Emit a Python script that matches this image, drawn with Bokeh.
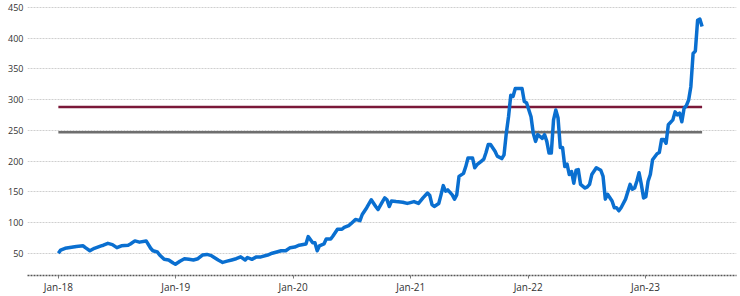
import pandas as pd
from bokeh.plotting import figure
from bokeh.models import Range1d, FixedTicker, DatetimeTickFormatter, ColumnDataSource
from bokeh.embed import file_html
from bokeh.resources import INLINE

# weekly series: week index since 2018-01-01 and value
weeks = [0, 1, 3, 8, 11, 12, 14, 16, 19, 20, 22, 24, 26, 28, 31, 32, 34, 36, 39, 41,
         42, 44, 45, 47, 49, 51, 52, 54, 56, 58, 60, 62, 64, 66, 68, 71, 73, 75, 77, 79,
         81, 83, 84, 86, 88, 90, 93, 95, 97, 99, 101, 103, 105, 107, 110, 111, 113, 114, 115, 116,
         118, 119, 121, 122, 124, 126, 127, 129, 130, 132, 134, 135, 137, 139, 141, 142, 144, 145, 146, 147,
         148, 150, 153, 155, 156, 158, 160, 162, 164, 165, 166, 167, 169, 170, 171, 172, 173, 175, 176, 177,
         178, 180, 181, 182, 184, 185, 186, 188, 189, 190, 191, 192, 194, 195, 197, 198, 199, 200, 201, 202,
         203, 204, 206, 207, 208, 210, 211, 212, 213, 215, 216, 217, 218, 219, 220, 221, 222, 223, 224, 225,
         226, 227, 228, 229, 230, 231, 232, 234, 235, 236, 237, 239, 241, 242, 243, 244, 246, 247, 248, 249,
         250, 252, 254, 255, 256, 257, 258, 259, 260, 261, 262, 263, 264, 266, 267, 268, 269, 270, 271, 273,
         274, 275, 276, 277, 278, 279, 280, 281, 282, 283, 284, 285, 286]
values = [50, 55, 58, 61, 62, 59, 54, 58, 62, 63, 66, 64, 59, 62, 63, 65, 70, 68, 70, 58,
          54, 52, 47, 40, 39, 34, 32, 37, 41, 40, 39, 41, 47, 48, 46, 39, 35, 37, 39, 41,
          44, 39, 43, 40, 44, 44, 47, 50, 52, 54, 54, 59, 60, 63, 65, 77, 67, 67, 54, 62,
          65, 73, 73, 78, 89, 89, 92, 95, 98, 105, 103, 113, 124, 137, 126, 121, 134, 140, 137, 126,
          135, 134, 133, 131, 132, 134, 131, 140, 148, 144, 129, 126, 131, 145, 160, 151, 153, 145, 138, 145,
          175, 180, 191, 205, 205, 189, 194, 200, 203, 214, 227, 227, 216, 208, 204, 210, 245, 272, 307, 305,
          318, 318, 318, 297, 295, 272, 245, 232, 243, 237, 243, 232, 213, 213, 267, 283, 270, 222, 222, 191,
          195, 178, 183, 164, 185, 186, 162, 156, 158, 162, 178, 189, 185, 175, 138, 146, 135, 124, 124, 119,
          124, 138, 162, 154, 156, 167, 181, 162, 140, 142, 167, 178, 202, 212, 214, 235, 235, 229, 259, 267,
          280, 275, 278, 264, 286, 290, 299, 321, 375, 379, 429, 431, 419]

level_red = 288
level_gray = 247
tick_years = [2018, 2019, 2020, 2021, 2022, 2023]

start = pd.Timestamp("2018-01-01")
dates = [start + pd.Timedelta(days=7 * w) for w in weeks]
src = ColumnDataSource(dict(x=dates, y=values))

p = figure(width=740, height=296, output_backend="svg", toolbar_location=None,
           x_axis_type="datetime",
           x_range=Range1d(pd.Timestamp("2017-09-27"), pd.Timestamp("2023-10-11")),
           y_range=Range1d(13.7, 461.3),
           min_border_left=27, min_border_right=4, min_border_top=0, min_border_bottom=0)
p.outline_line_color = None
p.background_fill_color = "white"

p.line([dates[0], dates[-1]], [level_red, level_red], line_color="#7a1838", line_width=2.5)
p.line([dates[0], dates[-1]], [level_gray, level_gray], line_color="#6e6e6e", line_width=2.5)
p.line("x", "y", source=src, line_color="#0a6fd0", line_width=3.5, line_join="round")

p.yaxis.ticker = FixedTicker(ticks=[50, 100, 150, 200, 250, 300, 350, 400, 450])
p.yaxis.axis_line_color = None
p.yaxis.major_tick_line_color = None
p.yaxis.minor_tick_line_color = None
p.yaxis.major_tick_out = 0
p.yaxis.major_tick_in = 0
p.yaxis.major_label_text_font = "Open Sans"
p.yaxis.major_label_text_color = "#333333"
p.yaxis.major_label_standoff = 4
p.yaxis.major_label_text_font_size = "9px"

xt = [pd.Timestamp(f"{y}-01-01").value / 1e6 for y in tick_years]
p.xaxis.ticker = FixedTicker(ticks=xt)
p.xaxis.formatter = DatetimeTickFormatter(years="%b-%y", months="%b-%y", days="%b-%y")
p.xaxis.axis_line_color = "#555555"
p.xaxis.axis_line_dash = "2 1"
p.xaxis.axis_line_width = 1.5
p.xaxis.major_tick_in = 0
p.xaxis.major_tick_out = 3
p.xaxis.major_tick_line_color = "#777777"
p.xaxis.minor_tick_line_color = None
p.xaxis.major_label_text_font = "Open Sans"
p.xaxis.major_label_text_font_size = "10px"
p.xaxis.major_label_text_color = "#333333"
p.xaxis.major_label_text_line_height = 0.9
p.xaxis.major_label_standoff = 1

p.xgrid.grid_line_color = None
p.ygrid.grid_line_color = "#cfcfcf"
p.ygrid.grid_line_width = 1
p.ygrid.grid_line_dash = "2 1"

open("out.html", "w").write(file_html(p, INLINE))
